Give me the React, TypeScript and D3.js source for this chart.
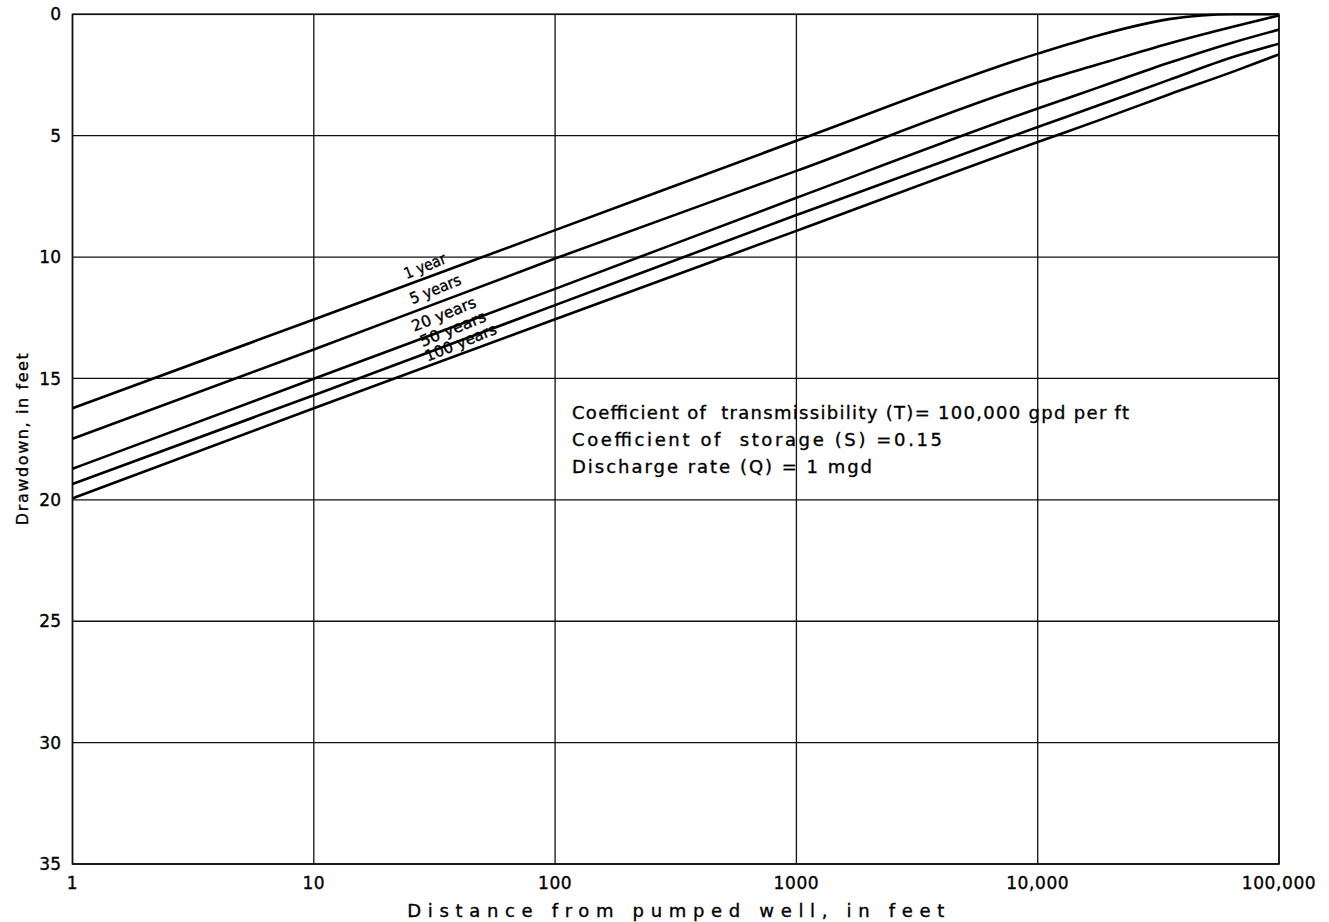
import React from "react";
import * as d3 from "d3";

const W = 1329;
const H = 922;

// Distance from pumped well, in feet
const distances = [1, 10, 100, 1000, 10000, 18000, 35000, 65000, 100000];

// Drawdown, in feet
const oneYear = [16.23, 12.57, 8.89, 5.21, 1.62, 0.86, 0.2, 0, 0];
const fiveYears = [17.48, 13.81, 10.06, 6.45, 2.81, 2.05, 1.2, 0.5, 0.05];
const twentyYears = [18.72, 15.01, 11.31, 7.56, 3.88, 3.0, 2.0, 1.15, 0.63];
const fiftyYears = [19.35, 15.69, 11.98, 8.27, 4.64, 3.74, 2.7, 1.75, 1.21];
const hundredYears = [19.94, 16.23, 12.56, 8.92, 5.26, 4.36, 3.3, 2.35, 1.65];

const seriesNames = ["1 year", "5 years", "20 years", "50 years", "100 years"];
const seriesValues = [oneYear, fiveYears, twentyYears, fiftyYears, hundredYears];

// label anchors (distance, drawdown) for the curve names
const labelDist = [24.2, 25.6, 26.1, 28.2, 29.6];
const labelDraw = [10.91, 11.94, 13.08, 13.7, 14.31];
const labelLens = [44, 54, 68, 70, 76];

const xTicks = [1, 10, 100, 1000, 10000, 100000];
const xTickLabels = ["1", "10", "100", "1000", "10,000", "100,000"];
const yTicks = [0, 5, 10, 15, 20, 25, 30, 35];

const noteLines = [
  "Coefficient of  transmissibility (T)= 100,000 gpd per ft",
  "Coefficient of  storage (S) =0.15",
  "Discharge rate (Q) = 1 mgd",
];
const noteWidths = [557, 370, 300];

const FONT = "'DejaVu Sans', sans-serif";

export default function App() {
  const left = 72.5;
  const right = 1279;
  const top = 14.3;
  const bottom = 864;

  const x = d3.scaleLog().domain([1, 100000]).range([left, right]);
  const y = d3.scaleLinear().domain([0, 35]).range([top, bottom]);

  const line = d3
    .line<[number, number]>()
    .x((d) => x(d[0]))
    .y((d) => y(d[1]))
    .curve(d3.curveMonotoneX);

  const textStroke = { stroke: "#000", strokeWidth: 0.35 };

  return (
    <div style={{ position: "absolute", left: 0, top: 0 }}>
      <svg width={W} height={H} style={{ display: "block", background: "#fff" }}>
        <rect x={0} y={0} width={W} height={H} fill="#fff" />
        {/* grid */}
        {xTicks.map((t) => (
          <line key={"gx" + t} x1={x(t)} x2={x(t)} y1={top} y2={bottom} stroke="#111" strokeWidth={1.3} />
        ))}
        {yTicks.map((t) => (
          <line key={"gy" + t} x1={left} x2={right} y1={y(t)} y2={y(t)} stroke="#111" strokeWidth={1.3} />
        ))}
        <rect x={left} y={top} width={right - left} height={bottom - top} fill="none" stroke="#111" strokeWidth={1.6} />

        {/* curves */}
        <defs>
          <clipPath id="plotclip">
            <rect x={left} y={top - 1} width={right - left} height={bottom - top + 1} />
          </clipPath>
        </defs>
        <g clipPath="url(#plotclip)">
          {seriesValues.map((vals, i) => (
            <path
              key={seriesNames[i]}
              d={line(distances.map((dd, j) => [dd, vals[j]] as [number, number])) || ""}
              fill="none"
              stroke="#000"
              strokeWidth={2.6}
            />
          ))}
        </g>

        {/* curve labels */}
        {seriesNames.map((n, i) => (
          <text
            key={"lbl" + n}
            transform={`translate(${x(labelDist[i])},${y(labelDraw[i])}) rotate(-22)`}
            fontFamily={FONT}
            fontSize={15.5}
            fill="#000"
            textLength={labelLens[i]}
            lengthAdjust="spacingAndGlyphs"
            {...textStroke}
          >
            {n}
          </text>
        ))}

        {/* y tick labels */}
        {yTicks.map((t) => (
          <text
            key={"yl" + t}
            x={61}
            y={y(t)}
            dy="0.36em"
            textAnchor="end"
            fontFamily={FONT}
            fontSize={17}
            fill="#000"
            {...textStroke}
          >
            {t}
          </text>
        ))}

        {/* x tick labels */}
        {xTicks.map((t, i) => (
          <text
            key={"xl" + t}
            x={x(t)}
            y={889}
            textAnchor="middle"
            fontFamily={FONT}
            fontSize={17}
            letterSpacing={0.6}
            fill="#000"
            {...textStroke}
          >
            {xTickLabels[i]}
          </text>
        ))}

        {/* axis titles */}
        <text
          x={(left + right) / 2}
          y={917}
          textAnchor="middle"
          fontFamily={FONT}
          fontSize={18}
          fill="#000"
          textLength={537}
          lengthAdjust="spacing"
          {...textStroke}
        >
          Distance from pumped well, in feet
        </text>
        <text
          transform={`translate(28,${(top + bottom) / 2}) rotate(-90)`}
          textAnchor="middle"
          fontFamily={FONT}
          fontSize={16}
          fill="#000"
          textLength={172}
          lengthAdjust="spacing"
          {...textStroke}
        >
          Drawdown, in feet
        </text>

        {/* notes */}
        {noteLines.map((s, i) => (
          <text
            key={"note" + i}
            x={572}
            y={419 + i * 27}
            fontFamily={FONT}
            fontSize={18}
            fill="#000"
            textLength={noteWidths[i]}
            lengthAdjust="spacing"
            style={{ whiteSpace: "pre" }}
            {...textStroke}
          >
            {s}
          </text>
        ))}
      </svg>
    </div>
  );
}
